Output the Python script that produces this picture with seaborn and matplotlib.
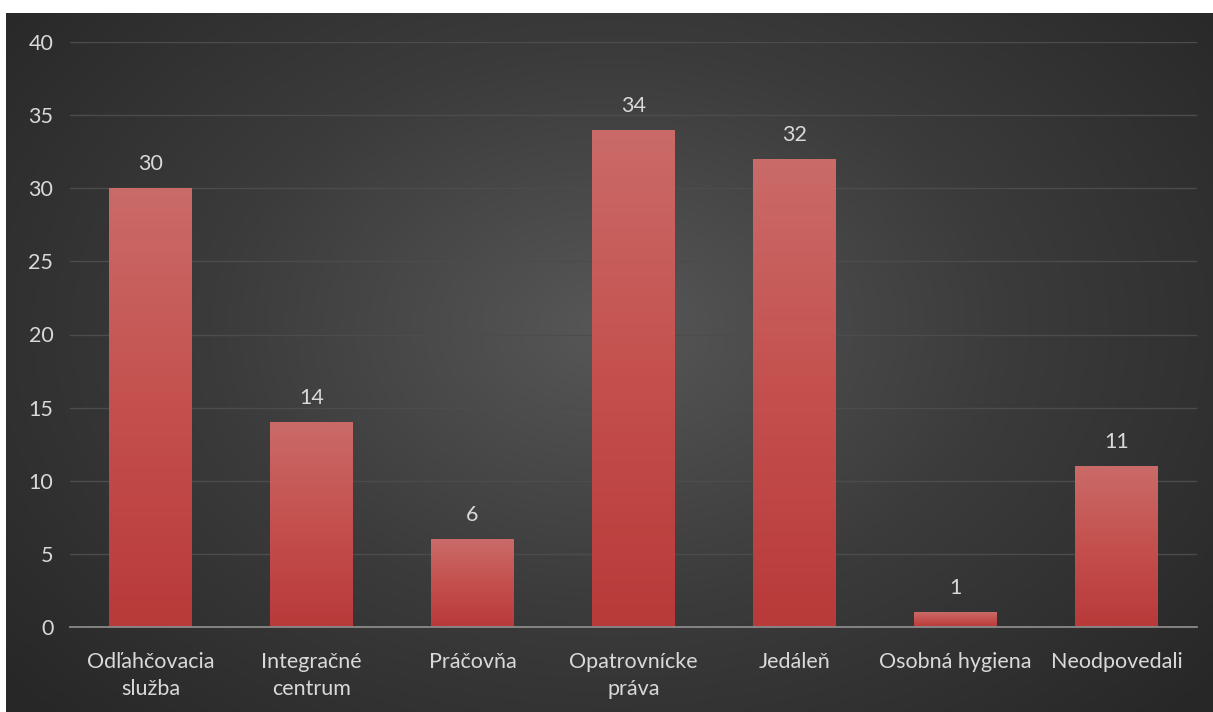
import numpy as np
import pandas as pd
import matplotlib
matplotlib.use("Agg")
import matplotlib.pyplot as plt
import seaborn as sns
from matplotlib.colors import LinearSegmentedColormap

categories = ["Odľahčovacia\nslužba", "Integračné\ncentrum", "Práčovňa", "Opatrovnícke\npráva",
              "Jedáleň", "Osobná hygiena", "Neodpovedali"]
values = [30, 14, 6, 34, 32, 1, 11]
yticks = [0, 5, 10, 15, 20, 25, 30, 35, 40]

df = pd.DataFrame({"cat": categories, "val": values})

sns.set_theme(style="white")
plt.rcParams["font.family"] = ["Lato", "DejaVu Sans"]

W, H = 1213, 712
fig = plt.figure(figsize=(W / 100, H / 100), dpi=100)
fig.patch.set_facecolor("white")

# background panel with radial gradient
bg = fig.add_axes([6 / W, 0, 1 - 6 / W, 1 - 13 / H])
bg.set_axis_off()
yy, xx = np.mgrid[0:300, 0:500]
cx, cy = 250, 135
r = np.sqrt(((xx - cx) / 330) ** 2 + ((yy - cy) / 240) ** 2)
r = np.clip(r, 0, 1)
bgcmap = LinearSegmentedColormap.from_list("bg", ["#575757", "#3b3b3b", "#272727"])
bg.imshow(r, cmap=bgcmap, aspect="auto", extent=[0, 1, 0, 1], vmin=0, vmax=1)
bg.set_xlim(0, 1)
bg.set_ylim(0, 1)

ax = fig.add_axes([70 / W, 1 - 627 / H, (1197 - 70) / W, (627 - 42) / H])
ax.patch.set_alpha(0)

sns.barplot(data=df, x="cat", y="val", ax=ax, color="#c0433f", width=0.51, saturation=1, zorder=3)

ax.set_ylim(0, 40)
ax.set_yticks(yticks)
ax.set_xlim(-0.5, len(categories) - 0.5)
ax.set_xlabel("")
ax.set_ylabel("")
for s in ["top", "right", "left"]:
    ax.spines[s].set_visible(False)
ax.spines["bottom"].set_color("#8a8a8a")
ax.spines["bottom"].set_linewidth(1.3)
ax.spines["bottom"].set_zorder(5)
ax.grid(axis="y", color="#4c4c4c", linewidth=1.0, zorder=0)
ax.set_axisbelow(True)
ax.tick_params(axis="both", length=0, colors="#d9d9d9", labelsize=15.5)
ax.tick_params(axis="y", pad=12)
ax.tick_params(axis="x", pad=18)
for t in ax.get_xticklabels():
    t.set_linespacing(1.45)

# gradient fill on bars
grad = np.linspace(0, 1, 256).reshape(-1, 1)
barcmap = LinearSegmentedColormap.from_list("bar", ["#b83a39", "#c4504d", "#ca6b69"])
for p in ax.patches:
    x0, y0 = p.get_x(), p.get_y()
    w, h = p.get_width(), p.get_height()
    im = ax.imshow(grad, cmap=barcmap, aspect="auto", origin="lower",
                   extent=[x0, x0 + w, y0, y0 + h], zorder=4)
    im.set_clip_path(p)
    p.set_facecolor("none")
    p.set_edgecolor("none")
ax.set_xlim(-0.5, len(categories) - 0.5)
ax.set_ylim(0, 40)

for i, v in enumerate(values):
    ax.annotate(str(v), (i, v), xytext=(0, 10), textcoords="offset points",
                ha="center", va="bottom", color="#d9d9d9", fontsize=15.5, zorder=6)

fig.savefig("out.png", dpi=100, facecolor="white")
